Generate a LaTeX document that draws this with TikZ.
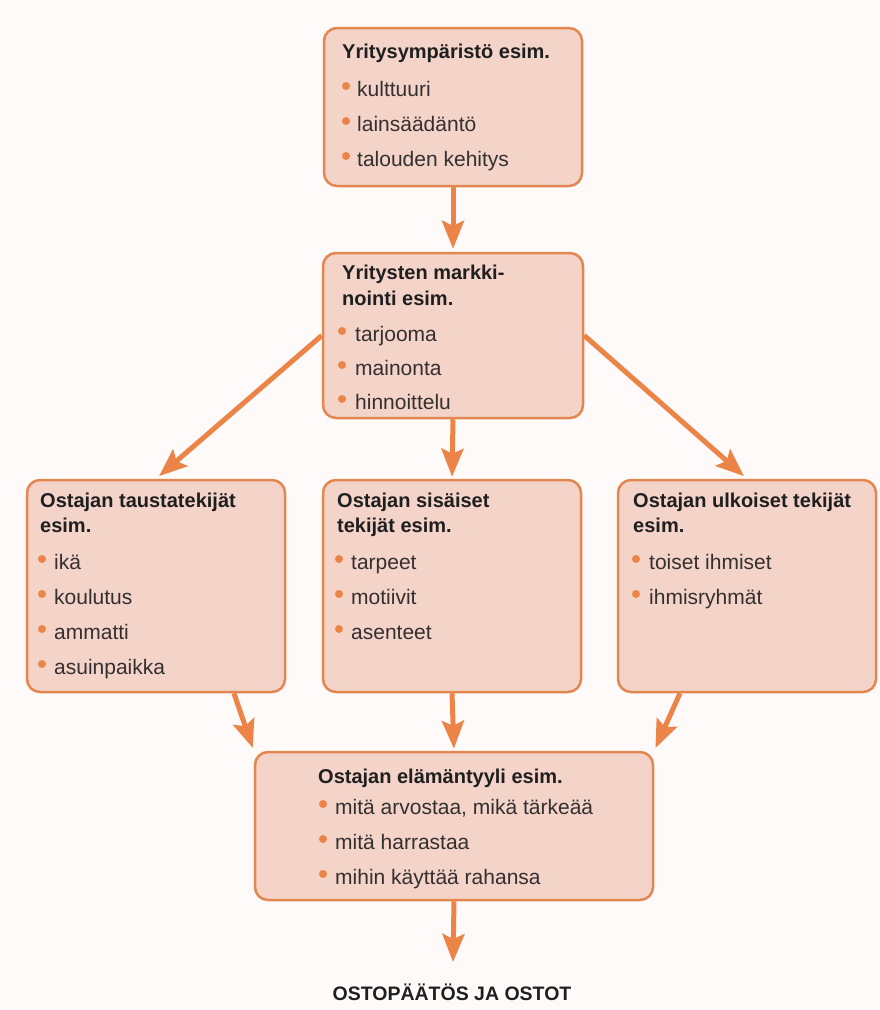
\documentclass[tikz,border=0pt]{standalone}
\usepackage{fontspec}
\setmainfont{Liberation Sans}
\usetikzlibrary{arrows.meta}
\definecolor{laatikko}{RGB}{244,211,201}
\definecolor{reuna}{RGB}{228,134,80}
\definecolor{oranssi}{RGB}{236,132,72}
\definecolor{paperi}{RGB}{254,250,250}
\definecolor{teksti}{RGB}{52,48,48}

\begin{document}
\begin{tikzpicture}[x=1pt,y=-1pt,
    box/.style={draw=reuna,line width=2.5pt,fill=laatikko,rounded corners=13pt,inner sep=0pt},
    otsikko/.style={anchor=base west,inner sep=0pt,font=\fontsize{20}{24}\selectfont\bfseries,text=black!88},
    kohta/.style={anchor=base west,inner sep=0pt,font=\fontsize{21}{25}\selectfont,text=teksti},
    piste/.style={fill=oranssi},
    nuoli/.style={draw=oranssi,line width=5pt,-{Stealth[length=28pt,width=22pt,inset=5pt]}}]
        \fill[paperi] (0,0) rectangle (880,1010);
        \useasboundingbox (0,0) rectangle (880,1010);

        % laatikot
        \node[box,minimum width=258pt,minimum height=158pt] (ymp) at (453,107) {};
        \node[box,minimum width=260pt,minimum height=165pt] (mark) at (453,335.5) {};
        \node[box,minimum width=258pt,minimum height=212pt] (tausta) at (156,586) {};
        \node[box,minimum width=258pt,minimum height=212pt] (sisa) at (452,586) {};
        \node[box,minimum width=258pt,minimum height=212pt] (ulko) at (747,586) {};
        \node[box,minimum width=398pt,minimum height=148pt] (elama) at (454,826) {};

        % yritysympäristö
        \node[otsikko] (ympT) at (342,58) {Yritysympäristö esim.};
        \foreach \y/\t [count=\i] in {90/kulttuuri, 125/lainsäädäntö, 160/talouden kehitys}{
            \fill[piste] (346,\y-4) circle (4pt);
            \node[kohta] (ymp\i) at (357,\y+6) {\t};
        }

        % markkinointi
        \node[otsikko] (markT1) at (342,279) {Yritysten markki-};
        \node[otsikko] (markT2) at (342,305) {nointi esim.};
        \foreach \y/\t [count=\i] in {335/tarjooma, 369/mainonta, 403/hinnoittelu}{
            \fill[piste] (342,\y-4) circle (4pt);
            \node[kohta] (mark\i) at (355,\y+6) {\t};
        }

        % ostajan tekijät
        \node[otsikko] (taustaT1) at (40,507) {Ostajan taustatekijät};
        \node[otsikko] (taustaT2) at (40,532) {esim.};
        \foreach \y/\t [count=\i] in {563/ikä, 598/koulutus, 633/ammatti, 668/asuinpaikka}{
            \fill[piste] (42,\y-4) circle (4pt);
            \node[kohta] (tausta\i) at (54,\y+6) {\t};
        }
        \node[otsikko] (sisaT1) at (337,507) {Ostajan sisäiset};
        \node[otsikko] (sisaT2) at (337,532) {tekijät esim.};
        \foreach \y/\t [count=\i] in {563/tarpeet, 598/motiivit, 633/asenteet}{
            \fill[piste] (339,\y-4) circle (4pt);
            \node[kohta] (sisa\i) at (351,\y+6) {\t};
        }
        \node[otsikko] (ulkoT1) at (633,507) {Ostajan ulkoiset tekijät};
        \node[otsikko] (ulkoT2) at (633,532) {esim.};
        \foreach \y/\t [count=\i] in {563/toiset ihmiset, 598/ihmisryhmät}{
            \fill[piste] (636,\y-4) circle (4pt);
            \node[kohta] (ulko\i) at (649,\y+6) {\t};
        }

        % elämäntyyli
        \node[otsikko] (elamaT) at (318,783) {Ostajan elämäntyyli esim.};
        \foreach \y/\t [count=\i] in {808/{mitä arvostaa, mikä tärkeää}, 843/mitä harrastaa, 878/mihin käyttää rahansa}{
            \fill[piste] (323,\y-4) circle (4pt);
            \node[kohta] (elama\i) at (335,\y+6) {\t};
        }

        \node[inner sep=0pt,font=\fontsize{19.5}{23}\selectfont\bfseries,text=black!88] (ostot) at (452,992) {OSTOPÄÄTÖS JA OSTOT};
        \coordinate (loppu) at (453,962);

        % nuolet
        \draw[nuoli,shorten >=3pt] (ymp.south) -- (mark.north);
        \draw[nuoli,shorten >=4pt] (mark.west) -- (tausta.north);
        \draw[nuoli,shorten >=4pt] (mark.east) -- (ulko.north);
        \draw[nuoli,shorten >=2pt] (mark.south) -- (sisa.north);
        \draw[nuoli,shorten >=3pt] (tausta.-54) -- (elama.north west);
        \draw[nuoli,shorten >=3pt] (ulko.238) -- (elama.north east);
        \draw[nuoli,shorten >=2pt] (sisa.south) -- (elama.north);
        \draw[nuoli] (elama.south) -- (loppu);
    \end{tikzpicture}
\end{document}
